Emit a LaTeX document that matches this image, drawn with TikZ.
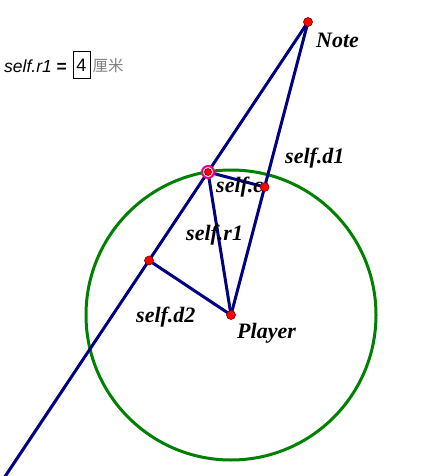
\documentclass[tikz,border=0pt]{standalone}
\usepackage{fontspec}
\setmainfont{Liberation Serif}
\setsansfont{Liberation Sans}
\newfontfamily\cjk{Noto Sans CJK SC}
\begin{document}
\begin{tikzpicture}[x=1pt,y=-1pt,
  seg/.style={draw={rgb,255:red,0;green,0;blue,128},line width=3pt,line cap=round},
  pt/.style={circle,fill=red,draw={rgb,255:red,120;green,0;blue,0},line width=0.6pt,inner sep=0pt,minimum size=9pt},
  lbl/.style={anchor=base west,inner sep=0pt,font=\fontsize{22}{24}\selectfont\bfseries\itshape}]
\useasboundingbox (0,0) rectangle (425,476);
% points
\coordinate (note) at (308,22);
\coordinate (player) at (231,315);
\coordinate (q) at (208,172);
\coordinate (c) at (264.6,187);
\coordinate (foot) at (149,260.5);
\coordinate (far) at (2.7,480);
% circle
\draw[draw={rgb,255:red,0;green,128;blue,0},line width=3pt] (player) circle[radius=145];
% segments
\draw[seg] (note) -- (far);
\draw[seg] (note) -- (player);
\draw[seg] (q) -- (player);
\draw[seg] (q) -- (c);
\draw[seg] (foot) -- (player);
% labels
\node[lbl] (lnote) at (316,48) {Note};
\node[lbl] (ld1) at (285,163) {self.d1};
\node[lbl] (lc) at (216,192) {self.c};
\node[lbl] (lr1) at (186,240) {self.r1};
\node[lbl] (ld2) at (136,322) {self.d2};
\node[lbl] (lplayer) at (237,338) {Player};
% dots
\node[circle,draw=magenta,fill=magenta!15,line width=2pt,minimum size=12pt,inner sep=0pt] (ring) at (q) {};
\node[pt,minimum size=7pt] (pq) at (q) {};
\node[pt] (pnote) at (note) {};
\node[pt] (pplayer) at (player) {};
\node[pt] (pc) at (c) {};
\node[pt] (pfoot) at (foot) {};
% top-left expression
\node[anchor=base west,inner sep=0pt,font=\fontsize{17.5}{19}\selectfont\sffamily] (expr) at (4,73) {\textit{self.r1} \textbf{=}};
\node[draw,line width=1pt,minimum width=17pt,minimum height=27pt,inner sep=0pt,font=\fontsize{18}{19}\selectfont\sffamily] (val) at (81.5,65.5) {4};
\node[anchor=base west,inner sep=0pt,text=gray,font=\fontsize{15.5}{16}\selectfont\cjk] (unit) at (92.5,72) {厘米};
\end{tikzpicture}
\end{document}
